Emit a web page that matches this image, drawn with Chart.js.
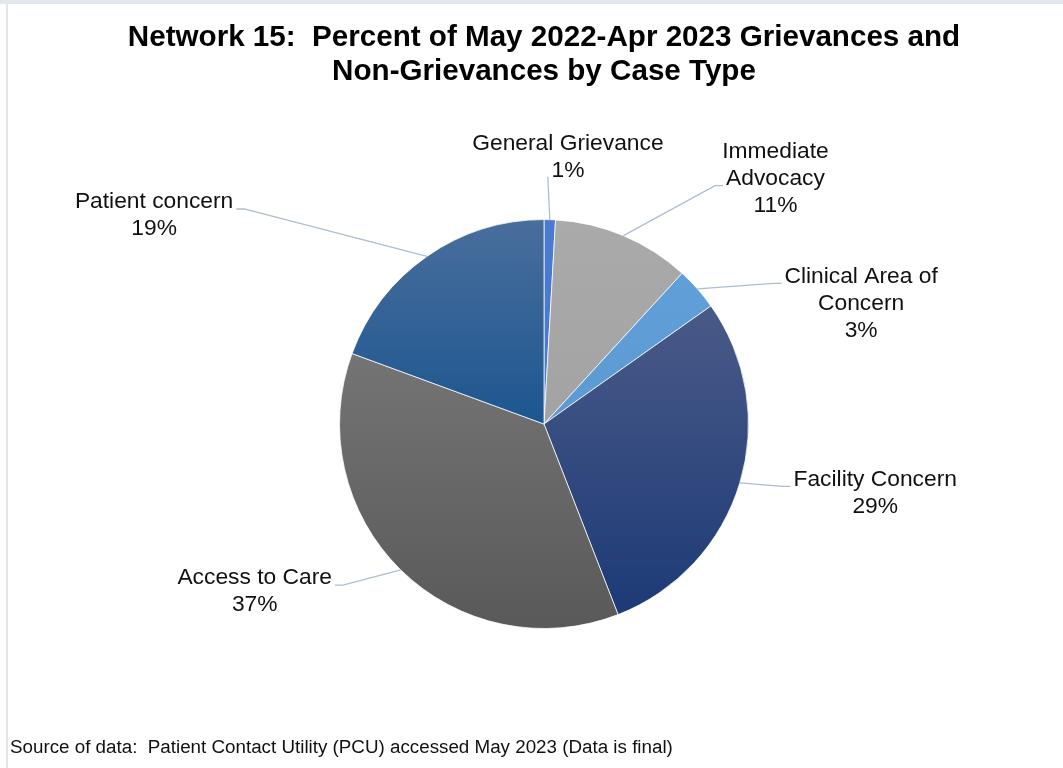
<!DOCTYPE html>
<html>
<head>
<meta charset="utf-8">
<script src="https://cdn.jsdelivr.net/npm/chart.js@4.4.0/dist/chart.umd.min.js"></script>
<style>
  html, body { margin:0; padding:0; background:#fff; }
  #wrap { position:relative; width:1063px; height:768px; }
</style>
</head>
<body>
<div id="wrap"><canvas id="c" width="1063" height="768"></canvas></div>
<script>
// datos del gráfico (porcentajes)
const categories = [
  "General Grievance",
  ["Immediate", "Advocacy"],
  ["Clinical Area of", "Concern"],
  "Facility Concern",
  "Access to Care",
  "Patient concern"
];
const percents = [0.9, 10.9, 3.4, 28.9, 36.5, 19.4];

const titleLines = [
  "Network 15:  Percent of May 2022-Apr 2023 Grievances and",
  "Non-Grievances by Case Type"
];
const sourceNote = "Source of data:  Patient Contact Utility (PCU) accessed May 2023 (Data is final)";

// colores: [arriba, abajo] con posición de parada (0..1 del alto del pastel)
const sliceFills = [
  [[0, "#4a7bd0"], [1, "#4677cc"]],
  [[0, "#aaaaaa"], [1, "#9c9c9c"]],
  [[0, "#63a1d9"], [1, "#5592cf"]],
  [[0, "#55679a"], [0.21, "#4a5a88"], [0.97, "#1c3a76"], [1, "#1b3874"]],
  [[0, "#7c7c7c"], [0.33, "#747474"], [1, "#595959"]],
  [[0, "#4a6e9c"], [0.5, "#1c5690"], [1, "#1c5690"]]
];

// posición de etiquetas respecto al centro, en radios
const labelSpots = [
  { dx: 0.117, dy: -1.307, attach: "bottom", line: 0 },
  { dx: 1.132, dy: -1.200, attach: "left", line: 1 },
  { dx: 1.551, dy: -0.590, attach: "left", line: 0 },
  { dx: 1.620, dy: 0.337, attach: "left", line: 0 },
  { dx: -1.415, dy: 0.820, attach: "right", line: 0 },
  { dx: -1.907, dy: -1.020, attach: "right", line: 0 }
];

const LABEL_FONT = "22.8px 'Liberation Sans', Arial, sans-serif";
const LINE_H = 27;

function sliceGradient(ctx) {
  const chart = ctx.chart;
  const area = chart.chartArea;
  const stops = sliceFills[ctx.dataIndex % sliceFills.length];
  if (!area) return stops[0][1];
  const g = chart.ctx.createLinearGradient(0, area.top, 0, area.bottom);
  stops.forEach(s => g.addColorStop(s[0], s[1]));
  return g;
}

// marco gris de la captura + nota de fuente
const framePlugin = {
  id: "frame",
  beforeDraw(chart) {
    const c = chart.ctx;
    c.save();
    c.fillStyle = "#e3e6ea";
    c.fillRect(0, 0, chart.width, 4);
    c.fillRect(6, 4, 2, chart.height - 4);
    c.restore();
  },
  afterDraw(chart) {
    const c = chart.ctx;
    c.save();
    c.font = "18.8px 'Liberation Sans', Arial, sans-serif";
    c.fillStyle = "#111";
    c.textBaseline = "middle";
    c.textAlign = "left";
    c.fillText(sourceNote, 10, 748);
    c.restore();
  }
};

// etiquetas con líneas guía al estilo Excel
const calloutPlugin = {
  id: "callouts",
  afterDatasetsDraw(chart) {
    const c = chart.ctx;
    const meta = chart.getDatasetMeta(0);
    const data = chart.data.datasets[0].data;
    c.save();
    c.font = LABEL_FONT;
    meta.data.forEach((arc, i) => {
      const p = arc.getProps(["x", "y", "startAngle", "endAngle", "outerRadius"], true);
      const R = p.outerRadius;
      const mid = (p.startAngle + p.endAngle) / 2;
      const sx = p.x + Math.cos(mid) * R;
      const sy = p.y + Math.sin(mid) * R;
      const spot = labelSpots[i];
      const lbl = chart.data.labels[i];
      const lines = (Array.isArray(lbl) ? lbl : [lbl]).concat([Math.round(data[i]) + "%"]);
      const cx = p.x + spot.dx * R;
      const cy = p.y + spot.dy * R;
      const top = cy - lines.length * LINE_H / 2;
      const widths = lines.map(t => c.measureText(t).width);
      const ly = top + LINE_H * (spot.line + 0.5);
      const lw = widths[spot.line];

      let ex, ey, kx, ky;
      if (spot.attach === "left") {
        ex = cx - lw / 2 - 3; ey = ly + 7; kx = ex - 8; ky = ey;
      } else if (spot.attach === "right") {
        ex = cx + lw / 2 + 3; ey = ly + 7; kx = ex + 8; ky = ey;
      } else {
        ex = sx - 2; ey = top + LINE_H * lines.length - 7; kx = ex; ky = ey;
      }
      c.strokeStyle = "#aebcd0";
      c.lineWidth = 1.3;
      c.beginPath();
      c.moveTo(sx, sy);
      c.lineTo(kx, ky);
      c.lineTo(ex, ey);
      c.stroke();

      c.fillStyle = "#111";
      c.textAlign = "center";
      c.textBaseline = "middle";
      lines.forEach((t, k) => c.fillText(t, cx, top + LINE_H * (k + 0.5)));
    });
    c.restore();
  }
};

new Chart(document.getElementById("c"), {
  type: "pie",
  data: {
    labels: categories,
    datasets: [{
      data: percents,
      backgroundColor: sliceGradient,
      borderColor: "rgba(255,255,255,0.75)",
      borderWidth: 1
    }]
  },
  options: {
    responsive: false,
    animation: false,
    layout: { padding: { left: 25, right: 0, top: 0, bottom: 139 } },
    plugins: {
      legend: { display: false },
      tooltip: { enabled: false },
      title: {
        display: true,
        text: titleLines,
        color: "#000",
        font: { family: "'Liberation Sans', Arial, sans-serif", size: 29.6, weight: "bold", lineHeight: 1.15 },
        padding: { top: 21, bottom: 130 }
      }
    }
  },
  plugins: [framePlugin, calloutPlugin]
});
</script>
</body>
</html>
